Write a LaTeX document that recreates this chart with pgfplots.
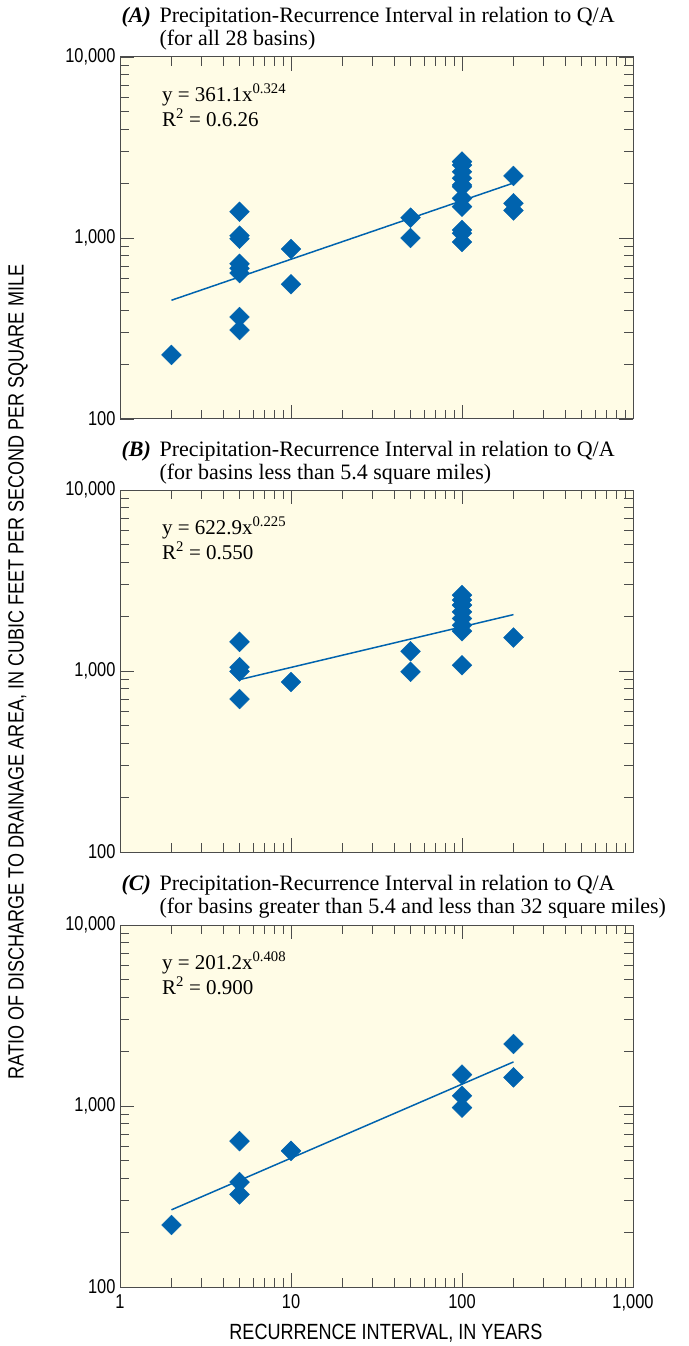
\documentclass[border=0pt]{standalone}
\usepackage{pgfplots}
\pgfplotsset{compat=1.18}
\usepackage{fontspec}
\setmainfont{Liberation Serif}
\setsansfont{Liberation Sans}[FakeStretch=0.82]
\definecolor{bg}{HTML}{FFFCE6}
\definecolor{pt}{HTML}{0063AE}
\pgfplotstableread{
x y
2 226
5 1396
5 1030
5 990
5 720
5 680
5 640
5 366
5 310
10 870
10 555
50 1295
50 1000
100 2642
100 2529
100 2323
100 2138
100 1963
100 1920
100 1656
100 1490
100 1107
100 1062
100 950
200 2202
200 1555
200 1420
}\dataA
\pgfplotstableread{
x y
5 1449
5 1050
5 995
5 700
10 870
50 1285
50 990
100 2624
100 2466
100 2312
100 2123
100 1950
100 1790
100 1660
100 1076
200 1530
}\dataB
\pgfplotstableread{
x y
2 220
5 640
5 380
5 325
10 565
100 1490
100 1140
100 980
200 2200
200 1440
}\dataC
\pgfplotstableread{
x y
2 453
200 2013
}\fitA
\pgfplotstableread{
x y
5 896
200 2049
}\fitB
\pgfplotstableread{
x y
2 267
200 1752
}\fitC
\pgfplotsset{
  /pgfplots/myPanel/.style={
    scale only axis, width=513pt, height=362pt,
    xmin=1, xmax=1000, ymin=100, ymax=10000,
    axis background/.style={fill=bg},
    axis line style={draw=black!70, line width=1pt},
    tick style={draw=black!70, line width=0.9pt},
    major tick length=14pt, minor tick length=9pt,
    tick align=inside,
    xtick={1,10,100,1000}, ytick={100,1000,10000},
    yticklabels={100,{1,000},{10,000}},
    xticklabels={1,10,100,{1,000}},
    tick label style={font=\sffamily\fontsize{20}{22}\selectfont},
    yticklabel style={xshift=-1pt},
    xticklabel style={yshift=-4pt},
    anchor=north west,
  },
}
\newcommand{\eq}[2]{\node[anchor=north west,align=left,font=\fontsize{21}{25}\selectfont] at (rel axis cs:0.075,0.935) {y = #1\\R\textsuperscript{2} = #2};}
\begin{document}
\begin{tikzpicture}
\useasboundingbox (0pt,0pt) rectangle (688pt,-1346pt);
\begin{loglogaxis}[myPanel, at={(120pt,-57pt)}, xticklabels={}]
\addplot[only marks, mark=square*, mark options={rotate=45}, mark size=7pt, color=pt] table[x=x,y=y] {\dataA};
\addplot[no marks, color=pt, line width=1.5pt] table[x=x,y=y] {\fitA};
\eq{361.1x\textsuperscript{0.324}}{0.6.26}
\end{loglogaxis}
\begin{loglogaxis}[myPanel, at={(120pt,-490pt)}, xticklabels={}]
\addplot[only marks, mark=square*, mark options={rotate=45}, mark size=7pt, color=pt] table[x=x,y=y] {\dataB};
\addplot[no marks, color=pt, line width=1.5pt] table[x=x,y=y] {\fitB};
\eq{622.9x\textsuperscript{0.225}}{0.550}
\end{loglogaxis}
\begin{loglogaxis}[myPanel, at={(120pt,-925pt)}]
\addplot[only marks, mark=square*, mark options={rotate=45}, mark size=7pt, color=pt] table[x=x,y=y] {\dataC};
\addplot[no marks, color=pt, line width=1.5pt] table[x=x,y=y] {\fitC};
\eq{201.2x\textsuperscript{0.408}}{0.900}
\end{loglogaxis}
\begin{scope}[font=\fontsize{22}{26}\selectfont]
\node[anchor=base west] at (118pt,-23pt) {\textbf{\textit{(A)}}};
\node[anchor=base west] at (156pt,-23pt) {Precipitation-Recurrence Interval in relation to Q/A};
\node[anchor=base west] at (156pt,-46pt) {(for all 28 basins)};
\node[anchor=base west] at (118pt,-456pt) {\textbf{\textit{(B)}}};
\node[anchor=base west] at (156pt,-456pt) {Precipitation-Recurrence Interval in relation to Q/A};
\node[anchor=base west] at (156pt,-479pt) {(for basins less than 5.4 square miles)};
\node[anchor=base west] at (118pt,-890pt) {\textbf{\textit{(C)}}};
\node[anchor=base west] at (156pt,-890pt) {Precipitation-Recurrence Interval in relation to Q/A};
\node[anchor=base west] at (156pt,-913pt) {(for basins greater than 5.4 and less than 32 square miles)};
\end{scope}
\node[font=\sffamily\fontsize{22}{24}\selectfont] at (386pt,-1333pt) {RECURRENCE INTERVAL, IN YEARS};
\node[rotate=90,font=\sffamily\fontsize{22}{24}\selectfont] at (18pt,-672pt) {RATIO OF DISCHARGE TO DRAINAGE AREA, IN CUBIC FEET PER SECOND PER SQUARE MILE};
\end{tikzpicture}
\end{document}
